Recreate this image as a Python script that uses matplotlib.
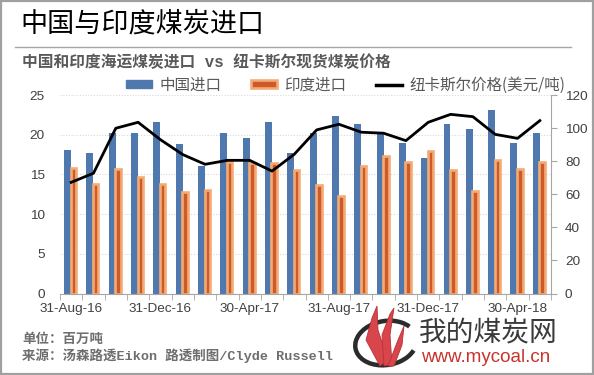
import numpy as np
import matplotlib
matplotlib.use("Agg")
import matplotlib.pyplot as plt
from matplotlib.patches import Patch, Rectangle, Arc, Polygon
from matplotlib.lines import Line2D

plt.rcParams['font.family'] = ['Noto Sans CJK SC', 'DejaVu Sans']

months = ["Aug-16", "Sep-16", "Oct-16", "Nov-16", "Dec-16", "Jan-17", "Feb-17", "Mar-17",
          "Apr-17", "May-17", "Jun-17", "Jul-17", "Aug-17", "Sep-17", "Oct-17", "Nov-17",
          "Dec-17", "Jan-18", "Feb-18", "Mar-18", "Apr-18", "May-18"]
china = [18.1, 17.7, 20.2, 20.2, 21.6, 18.8, 16.0, 20.2, 19.6, 21.6, 17.7,
         20.2, 22.4, 21.4, 20.2, 18.9, 17.1, 21.3, 20.7, 23.1, 18.9, 20.2]
india = [15.8, 13.8, 15.7, 14.7, 13.8, 12.8, 13.0, 16.5, 16.4, 16.4, 15.5,
         13.7, 12.3, 16.1, 17.3, 16.6, 17.9, 15.6, 12.9, 16.8, 15.7, 16.5]
price = [67.2, 72.7, 99.9, 103.5, 93.0, 84.0, 78.1, 80.5, 80.5, 74.0, 84.2,
         98.9, 102.3, 97.5, 96.9, 92.4, 103.5, 108.3, 106.9, 96.2, 93.8, 104.5]
tick_pos = [0, 4, 8, 12, 16, 20]
tick_labels = ["31-Aug-16", "31-Dec-16", "30-Apr-17", "31-Aug-17", "31-Dec-17", "30-Apr-18"]

BLUE = "#4F79AE"
ORANGE_IN = "#CE5A2A"
ORANGE_EDGE = "#F3AB76"
GRAY_TXT = "#595959"
TICK_TXT = "#404040"
AX_GRAY = "#A6A6A6"

fig = plt.figure(figsize=(5.94, 3.75), dpi=100)
W, H = 594, 375

# pixel-coordinate overlay for the watermark logo (behind everything)
lay = fig.add_axes([0, 0, 1, 1], zorder=-1)
lay.set_xlim(0, W)
lay.set_ylim(H, 0)
lay.axis("off")
lay.add_patch(Arc((386, 343), 62, 44, angle=-10, theta1=25, theta2=335,
                  color="#2B2B2B", lw=3.2))
for pts in ([(380, 366), (366, 340), (372, 318), (377, 306), (378, 330), (388, 360)],
            [(384, 366), (382, 335), (390, 314), (394, 308), (390, 335), (392, 364)],
            [(388, 366), (398, 340), (404, 326), (402, 345), (394, 366)]):
    lay.add_patch(Polygon(pts, closed=True, facecolor="#D8454A", edgecolor="#B8323A", lw=0.6))

left, right, top, bottom = 60, 551, 95, 293.5
ax = fig.add_axes([left / W, 1 - bottom / H, (right - left) / W, (bottom - top) / H])
ax2 = ax.twinx()

x = np.arange(len(months))
ax.bar(x - 0.16, china, width=0.31, color=BLUE, zorder=2)
ax.bar(x + 0.10, india, width=0.25, color=ORANGE_IN, edgecolor=ORANGE_EDGE,
       linewidth=1.9, zorder=3)
ax2.plot(x, price, color="black", lw=2.0, zorder=5, solid_joinstyle="round")

ax.set_xlim(-0.5, len(months) - 0.5)
ax.set_ylim(0, 25)
ax2.set_ylim(0, 120)
ax.set_yticks(np.arange(0, 26, 5))
ax2.set_yticks(np.arange(0, 121, 20))
ax.set_xticks(tick_pos)
ax.set_xticklabels(tick_labels)
ax.set_xticks(np.arange(-0.5, len(months), 1), minor=True)

ax.yaxis.grid(True, color="#D9D9D9", linestyle=(0, (1, 1.5)), lw=0.8, zorder=0)
ax.set_axisbelow(True)

for a in (ax, ax2):
    for s in ("top", "left"):
        a.spines[s].set_visible(False)
    a.patch.set_visible(False)
ax.spines["right"].set_visible(False)
ax2.spines["bottom"].set_visible(False)
ax.spines["bottom"].set_color(AX_GRAY)
ax2.spines["right"].set_color(AX_GRAY)

tf = dict(family=["Liberation Sans", "DejaVu Sans"], size=9.7, color=TICK_TXT)
ax.tick_params(axis="x", which="major", length=0, pad=7)
ax.tick_params(axis="x", which="minor", length=4, color=AX_GRAY, direction="out")
ax.tick_params(axis="y", length=0, pad=11)
ax2.tick_params(axis="y", length=4, color=AX_GRAY, direction="out", pad=6)
for lbl in ax.get_xticklabels() + ax.get_yticklabels() + ax2.get_yticklabels():
    lbl.set_fontfamily(tf["family"])
    lbl.set_fontsize(tf["size"])
    lbl.set_color(tf["color"])

# frame
fig.patches.append(Rectangle((0.001, 0.002), 0.997, 0.995, transform=fig.transFigure,
                             fill=False, edgecolor="#A0A0A0", lw=1.6))

# title
fig.text(20 / W, 1 - 24 / H, "中国与印度煤炭进口", fontsize=19.5, color="black",
         va="center", ha="left")
fig.add_artist(Line2D([15 / W, 571 / W], [1 - 47 / H, 1 - 47 / H],
                      transform=fig.transFigure, color="#A6A6A6", lw=1.0))
mono_cjk = ["Liberation Mono", "Noto Sans CJK SC"]
fig.text(22 / W, 1 - 62 / H, "中国和印度海运煤炭进口 vs 纽卡斯尔现货煤炭价格",
         fontsize=11.3, fontweight="bold", color=GRAY_TXT, va="center", ha="left",
         family=mono_cjk)

# legend
handles = [Patch(facecolor=BLUE, edgecolor=BLUE),
           Patch(facecolor=ORANGE_IN, edgecolor=ORANGE_EDGE, linewidth=1.9),
           Line2D([0], [0], color="black", lw=2.5)]
labels = ["中国进口", "印度进口", "纽卡斯尔价格(美元/吨)"]
leg = fig.legend(handles, labels, loc="center left", bbox_to_anchor=(126 / W, 1 - 85 / H),
                 ncol=3, frameon=False, fontsize=11.2, handlelength=1.7, handleheight=0.45,
                 handletextpad=0.45, columnspacing=1.9, borderaxespad=0, borderpad=0)
for t in leg.get_texts():
    t.set_color(GRAY_TXT)

# footnotes
fig.text(22 / W, 1 - 340 / H, "单位：百万吨", fontsize=9.7, fontweight="bold",
         color="#6E6E6E", va="center", ha="left", family=mono_cjk)
fig.text(22 / W, 1 - 356 / H, "来源：汤森路透Eikon 路透制图/Clyde Russell", fontsize=9.7,
         fontweight="bold", color="#6E6E6E", va="center", ha="left", family=mono_cjk)

# watermark text
fig.text(419 / W, 1 - 332 / H, "我的煤炭网", fontsize=20, color="#3A3A3A",
         va="center", ha="left")
fig.text(421 / W, 1 - 358 / H, "www.mycoal.cn", fontsize=13.5, color="#C8332B",
         va="center", ha="left", family=["Liberation Sans", "DejaVu Sans"])

fig.savefig("out.png", dpi=100)
